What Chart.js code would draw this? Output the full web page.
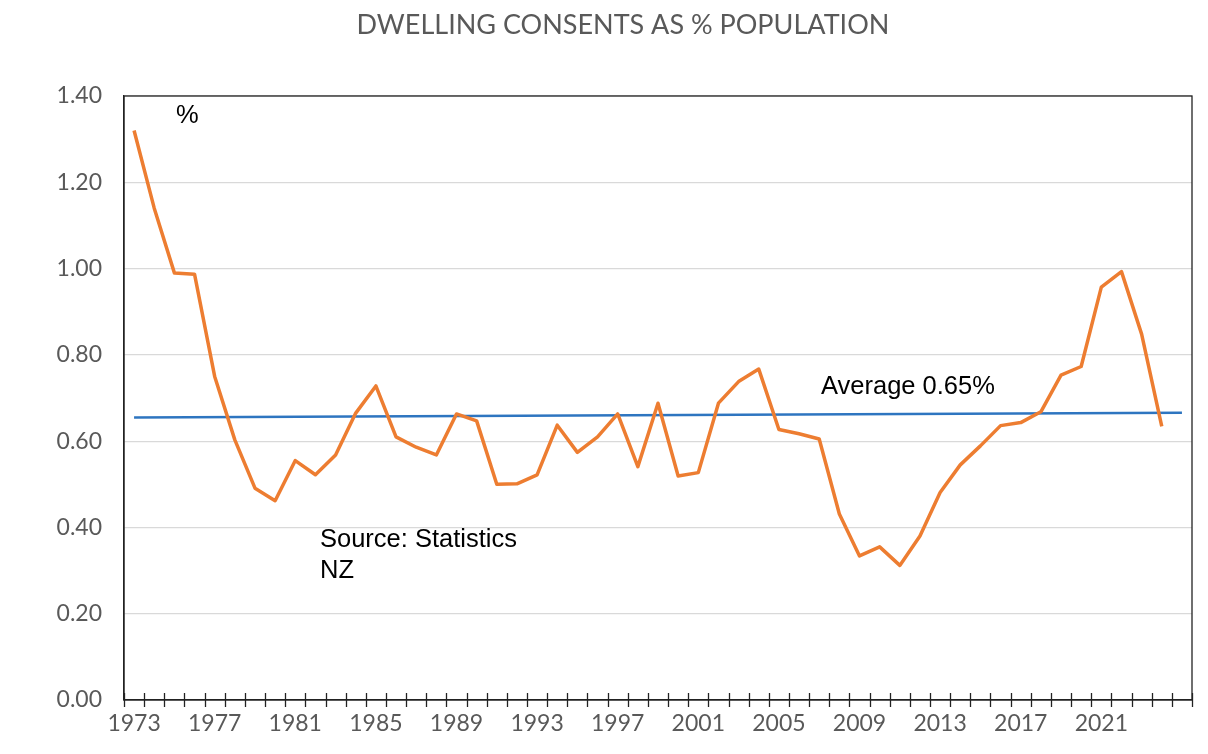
<!DOCTYPE html>
<html>
<head>
<meta charset="utf-8">
<script src="https://cdn.jsdelivr.net/npm/chart.js@4.4.1/dist/chart.umd.min.js"></script>
<style>
  html, body { margin: 0; padding: 0; background: #fff; }
  #wrap { width: 1208px; height: 754px; position: relative; }
</style>
</head>
<body>
<div id="wrap"><canvas id="myChart"></canvas></div>
<script>
'use strict';

// years on the axis (last slot is an empty year, like the original)
let years = ['1973','1974','1975','1976','1977','1978','1979','1980','1981','1982',
  '1983','1984','1985','1986','1987','1988','1989','1990','1991','1992',
  '1993','1994','1995','1996','1997','1998','1999','2000','2001','2002',
  '2003','2004','2005','2006','2007','2008','2009','2010','2011','2012',
  '2013','2014','2015','2016','2017','2018','2019','2020','2021','2022',
  '2023','2024','2025'];

// dwelling consents as % of population
let consents = [1.32, 1.14, 0.99, 0.987, 0.75, 0.603, 0.491, 0.462, 0.555, 0.522,
  0.568, 0.665, 0.728, 0.61, 0.586, 0.568, 0.663, 0.647, 0.5, 0.501,
  0.522, 0.637, 0.574, 0.61, 0.663, 0.541, 0.688, 0.519, 0.527, 0.688,
  0.738, 0.767, 0.627, 0.617, 0.605, 0.431, 0.334, 0.355, 0.312, 0.38,
  0.481, 0.545, 0.589, 0.636, 0.643, 0.668, 0.753, 0.773, 0.957, 0.993,
  0.848, 0.634];

// average line end points
let avgYears = ['1973', '2025'];
let avgValues = [0.655, 0.666];

let yTicks = [0, 0.2, 0.4, 0.6, 0.8, 1.0, 1.2, 1.4];

let avgPoints = [];
for (let i = 0; i < avgYears.length; i++) {
  avgPoints.push({x: avgYears[i], y: avgValues[i]});
}

let tickFont = {family: 'Lato', size: 23};
let grey = '#595959';

// title, notes, plot frame and the small x tick marks
let extras = {
  id: 'extras',
  afterDraw(chart) {
    let ctx = chart.ctx;
    let a = chart.chartArea;
    let xs = chart.scales.x;
    ctx.save();

    ctx.strokeStyle = '#222';
    ctx.lineWidth = 1.3;
    ctx.strokeRect(a.left, a.top, a.right - a.left, a.bottom - a.top);

    let n = xs.ticks.length;
    let w = (a.right - a.left) / n;
    for (let i = 0; i <= n; i++) {
      let px = Math.round(a.left + i * w) + 0.5;
      ctx.beginPath();
      ctx.moveTo(px, a.bottom - 7);
      ctx.lineTo(px, a.bottom + 7);
      ctx.stroke();
    }

    ctx.fillStyle = grey;
    ctx.font = '27px Lato';
    ctx.textAlign = 'center';
    ctx.textBaseline = 'middle';
    ctx.fillText('DWELLING CONSENTS AS % POPULATION', 623, 25);

    ctx.fillStyle = '#000';
    ctx.font = '25.5px "Liberation Sans"';
    ctx.textAlign = 'left';
    ctx.fillText('%', 176, 116);
    ctx.fillText('Average 0.65%', 821, 387);
    ctx.fillText('Source: Statistics', 320, 540);
    ctx.fillText('NZ', 320, 571);
    ctx.restore();
  }
};

let ctx = document.getElementById('myChart').getContext('2d');
let myChart = new Chart(ctx, {
  type: 'line',
  data: {
    labels: years,
    datasets: [{
      label: 'Dwelling consents',
      data: consents,
      borderColor: '#ED7D31',
      borderWidth: 3.5,
      borderJoinStyle: 'round',
      pointRadius: 0,
      tension: 0,
      fill: false
    }, {
      label: 'Average',
      data: avgPoints,
      borderColor: '#2E75C0',
      borderWidth: 2.5,
      pointRadius: 0,
      tension: 0,
      fill: false
    }]
  },
  options: {
    responsive: true,
    maintainAspectRatio: false,
    animation: false,
    layout: {
      padding: {top: 96, right: 16, left: 0, bottom: 0}
    },
    plugins: {
      legend: {display: false},
      title: {display: false},
      tooltip: {enabled: false}
    },
    scales: {
      x: {
        type: 'category',
        offset: true,
        afterFit(scale) { scale.height = 54; },
        grid: {
          offset: true,
          drawOnChartArea: false,
          drawTicks: false
        },
        border: {color: '#222', width: 1.3},
        ticks: {
          autoSkip: false,
          maxRotation: 0,
          padding: 10,
          color: grey,
          font: tickFont,
          callback: function (value, index) {
            if (index % 4 === 0 && index < consents.length) {
              return years[index];
            }
            return '';
          }
        }
      },
      y: {
        min: 0,
        max: 1.4,
        afterFit(scale) { scale.width = 124; },
        afterBuildTicks(scale) {
          scale.ticks = yTicks.map(v => ({value: v}));
        },
        grid: {
          color: '#d9d9d9',
          lineWidth: 1.2,
          drawTicks: false
        },
        border: {color: '#222', width: 1.3},
        ticks: {
          padding: 22,
          color: grey,
          font: tickFont,
          callback: function (value) {
            return value.toFixed(2);
          }
        }
      }
    }
  },
  plugins: [extras]
});
</script>
</body>
</html>
